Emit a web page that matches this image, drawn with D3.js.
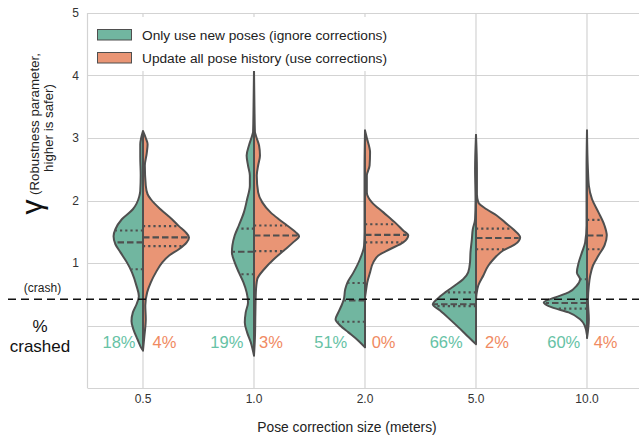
<!DOCTYPE html>
<html><head><meta charset="utf-8">
<script src="https://cdn.jsdelivr.net/npm/d3@7"></script>
<style>body{margin:0;background:#fff}svg{display:block}text{font-family:"Liberation Sans",Arial,sans-serif}</style>
</head><body><svg id="c" width="639" height="440"></svg>
<script>
const categories = ["0.5","1.0","2.0","5.0","10.0"];
const seriesNames = ["Only use new poses (ignore corrections)","Update all pose history (use corrections)"];
const crashNew = [18,19,51,66,60];
const crashAll = [4,3,0,2,4];
const yTicks = [1,2,3,4,5];
const crashLevel = 0.42;
// quartiles [q1, median, q3]
const quartNew = [[0.90,1.33,1.52],[0.82,1.18,1.55],[0.06,0.40,0.68],[0.31,0.34,0.53],[0.27,0.36,0.74]];
const quartAll = [[1.27,1.41,1.59],[1.19,1.44,1.60],[1.33,1.45,1.62],[1.22,1.40,1.55],[1.22,1.44,1.69]];
// density profiles [gamma, relative density]
const densNew05 = [[3.11,0],[3.0,0.04],[2.9,0.06],[2.7,0.06],[2.4,0.05],[2.15,0.06],[2.07,0.08],[1.95,0.14],[1.86,0.22],[1.70,0.46],[1.54,0.60],[1.43,0.64],[1.30,0.60],[1.17,0.49],[1.01,0.35],[0.85,0.24],[0.63,0.14],[0.47,0.09],[0.34,0.14],[0.21,0.22],[0.07,0.25],[-0.06,0.21],[-0.22,0.12],[-0.38,0.02],[-0.40,0]];
const densAll05 = [[3.11,0],[3.0,0.06],[2.9,0.10],[2.75,0.08],[2.56,0.04],[2.24,0.06],[2.10,0.10],[2.02,0.17],[1.86,0.38],[1.70,0.63],[1.59,0.78],[1.49,0.93],[1.41,1.00],[1.33,0.95],[1.22,0.78],[1.12,0.57],[1.01,0.42],[0.85,0.28],[0.69,0.17],[0.53,0.09],[0.32,0.05],[0.10,0.06],[-0.17,0.03],[-0.40,0]];
const densNew10 = [[4.10,0],[3.5,0.01],[3.1,0.02],[3.04,0.04],[2.88,0.11],[2.72,0.16],[2.56,0.13],[2.40,0.09],[2.24,0.09],[2.02,0.15],[1.81,0.22],[1.60,0.33],[1.44,0.42],[1.28,0.47],[1.17,0.48],[1.01,0.42],[0.85,0.33],[0.69,0.23],[0.53,0.16],[0.37,0.13],[0.21,0.18],[0.05,0.20],[-0.11,0.15],[-0.27,0.07],[-0.48,0]];
const densAll10 = [[4.10,0],[3.5,0.01],[3.1,0.02],[3.04,0.04],[2.88,0.11],[2.72,0.13],[2.56,0.09],[2.40,0.06],[2.13,0.09],[1.97,0.18],[1.81,0.36],[1.70,0.54],[1.60,0.72],[1.49,0.91],[1.43,0.98],[1.33,0.85],[1.20,0.65],[1.06,0.43],[0.90,0.22],[0.74,0.07],[0.53,0.04],[0.20,0.03],[-0.20,0.02],[-0.48,0]];
const densNew20 = [[3.12,0],[2.5,0.01],[1.5,0.01],[1.28,0.02],[1.06,0.11],[0.85,0.25],[0.69,0.38],[0.58,0.43],[0.42,0.46],[0.32,0.51],[0.21,0.58],[0.10,0.64],[0.0,0.54],[-0.11,0.36],[-0.24,0.15],[-0.35,0]];
const densAll20 = [[3.12,0],[3.0,0.04],[2.77,0.11],[2.56,0.10],[2.40,0.04],[2.13,0.04],[1.97,0.15],[1.81,0.40],[1.65,0.65],[1.52,0.83],[1.44,0.94],[1.33,0.83],[1.22,0.54],[1.12,0.29],[1.01,0.18],[0.85,0.11],[0.69,0.05],[0.55,0.02],[0.45,0]];
const densNew50 = [[3.05,0],[2.5,0.02],[2.0,0.01],[1.70,0.02],[1.54,0.07],[1.38,0.09],[1.17,0.12],[1.01,0.13],[0.85,0.17],[0.74,0.28],[0.64,0.46],[0.53,0.67],[0.42,0.85],[0.34,0.94],[0.24,0.78],[0.10,0.57],[-0.03,0.38],[-0.16,0.20],[-0.30,0]];
const densAll50 = [[3.05,0],[2.5,0.02],[2.1,0.02],[1.97,0.05],[1.86,0.23],[1.76,0.45],[1.65,0.63],[1.54,0.81],[1.41,0.96],[1.30,0.85],[1.20,0.59],[1.06,0.38],[0.96,0.27],[0.80,0.16],[0.64,0.05],[0.50,0.01],[0.40,0]];
const densNew100 = [[3.12,0],[2.5,0.01],[1.6,0.01],[1.33,0.04],[1.17,0.11],[1.01,0.18],[0.85,0.22],[0.74,0.15],[0.64,0.22],[0.53,0.40],[0.45,0.69],[0.37,0.94],[0.29,0.76],[0.21,0.40],[0.10,0.15],[0.0,0.05],[-0.16,0]];
const densAll100 = [[3.12,0],[2.5,0.02],[2.24,0.04],[2.02,0.11],[1.81,0.25],[1.60,0.38],[1.44,0.43],[1.28,0.38],[1.12,0.25],[0.96,0.13],[0.80,0.07],[0.64,0.04],[0.4,0.02],[0.1,0.04],[-0.2,0]];
const densNew = [densNew05,densNew10,densNew20,densNew50,densNew100];
const densAll = [densAll05,densAll10,densAll20,densAll50,densAll100];

// layout (not data)
const gapL = [7.5,10.6,17.7,13.3,6.7], gapR = [9.5,5,6.7,9,6.7];
const cNew = "#71b6a0", cAll = "#e99575", tNew = "#66c2a5", tAll = "#f08a62", edge = "#4f4f4f", grid = "#d3d3d3";

const svg = d3.select("#c");
const y = d3.scaleLinear().domain([-1,5]).range([388,13]);
const x = d3.scaleBand().domain(categories).range([87.5,642.5]);
const w = d3.scaleLinear().domain([0,1]).range([0,46]);
const cx = c => x(c) + x.bandwidth()/2;

svg.append("rect").attr("width",639).attr("height",440).attr("fill","#fff");
// gridlines
const g = svg.append("g");
g.selectAll("line.h").data(y.ticks(6)).join("line").attr("class","h")
 .attr("x1",87.5).attr("x2",643).attr("y1",d=>Math.round(y(d))+0.5).attr("y2",d=>Math.round(y(d))+0.5)
 .attr("stroke",grid).attr("stroke-width",1.2);
g.selectAll("line.v").data(categories).join("line").attr("class","v")
 .attr("x1",d=>cx(d)).attr("x2",d=>cx(d)).attr("y1",y(5)).attr("y2",y(-1))
 .attr("stroke",grid).attr("stroke-width",1.2);
g.append("line").attr("x1",87.5).attr("x2",87.5).attr("y1",y(5)).attr("y2",y(-1)).attr("stroke",grid).attr("stroke-width",1.2);

// y tick labels
const yAxis = svg.append("g").attr("transform","translate(79,0)")
 .call(d3.axisLeft(y).tickValues(yTicks).tickSize(0).tickPadding(0).tickFormat(d3.format("d")));
yAxis.select(".domain").remove();
yAxis.selectAll("text").attr("font-size",12).attr("fill","#333").attr("font-family","Liberation Sans, Arial, sans-serif");

// x tick labels
const xAxis = svg.append("g").attr("transform","translate(0,394)")
 .call(d3.axisBottom(x).tickSize(0).tickPadding(0));
xAxis.select(".domain").remove();
xAxis.selectAll("text").attr("font-size",12).attr("fill","#333").attr("font-family","Liberation Sans, Arial, sans-serif");

// violins
function widthAt(prof, v){
  for(let i=0;i<prof.length-1;i++){
    const a=prof[i], b=prof[i+1];
    if(v<=a[0] && v>=b[0]){ const t=(a[0]-v)/(a[0]-b[0]); return a[1]+(b[1]-a[1])*t; }
  }
  return 0;
}
const vg = svg.append("g");
categories.forEach((c,i)=>{
  const X = cx(c);
  [[densNew[i],-1,cNew,quartNew[i]],[densAll[i],1,cAll,quartAll[i]]].forEach(([prof,s,col,q])=>{
    const area = d3.area().curve(d3.curveMonotoneY)
      .y(d=>y(d[0])).x0(X).x1(d=>X + s*w(d[1]));
    vg.append("path").datum(prof).attr("d",area).attr("fill",col)
      .attr("stroke",edge).attr("stroke-width",2).attr("stroke-linejoin","round");
    q.forEach((v,k)=>{
      const ww = Math.max(0, w(widthAt(prof,v)) - 1);
      vg.append("line").attr("x1",X).attr("x2",X + s*ww).attr("y1",y(v)).attr("y2",y(v))
        .attr("stroke",edge).attr("stroke-width",2.2)
        .attr("stroke-dasharray", k===1 ? "6.5,3" : "2.2,3");
    });
  });
});

// legend
const lg = svg.append("g");
lg.append("rect").attr("x",91).attr("y",17).attr("width",305).attr("height",54).attr("fill","#fff");
seriesNames.forEach((n,i)=>{
  lg.append("rect").attr("x",97.5).attr("y",29.5+i*23).attr("width",34).attr("height",10.5)
    .attr("fill",i?cAll:cNew).attr("stroke",edge).attr("stroke-width",1);
  lg.append("text").attr("x",142).attr("y",39.5+i*23).attr("font-size",13.7).attr("fill","#222").text(n);
});

// crash line
svg.append("line").attr("x1",8).attr("x2",639).attr("y1",y(crashLevel)).attr("y2",y(crashLevel))
 .attr("stroke","#111").attr("stroke-width",1.5).attr("stroke-dasharray","8,5");

// percent labels
categories.forEach((c,i)=>{
  const X = cx(c);
  svg.append("text").attr("x",X-gapL[i]).attr("y",348).attr("text-anchor","end")
    .attr("font-size",16.5).attr("fill",tNew).text(crashNew[i]+"%");
  svg.append("text").attr("x",X+gapR[i]).attr("y",348).attr("text-anchor","start")
    .attr("font-size",16.5).attr("fill",tAll).text(crashAll[i]+"%");
});

// left annotations
svg.append("text").attr("x",42.5).attr("y",292).attr("text-anchor","middle").attr("font-size",12).attr("fill","#222").text("(crash)");
svg.append("text").attr("x",40).attr("y",332).attr("text-anchor","middle").attr("font-size",17).attr("fill","#111").text("%");
svg.append("text").attr("x",40).attr("y",352).attr("text-anchor","middle").attr("font-size",17).attr("fill","#111").text("crashed");

// y label
svg.append("text").attr("transform","translate(31,207) rotate(-90)").attr("text-anchor","middle")
 .attr("dy","0.35em").attr("font-size",30).attr("fill","#111").text("γ");
svg.append("text").attr("transform","translate(34,124) rotate(-90)").attr("text-anchor","middle")
 .attr("dy","0.35em").attr("font-size",13.3).attr("fill","#222").text("(Robustness parameter,");
svg.append("text").attr("transform","translate(48,128) rotate(-90)").attr("text-anchor","middle")
 .attr("dy","0.35em").attr("font-size",13.3).attr("fill","#222").text("higher is safer)");

// x title
svg.append("text").attr("x",347).attr("y",432).attr("text-anchor","middle").attr("font-size",13.8).attr("fill","#222").text("Pose correction size (meters)");
</script></body></html>
